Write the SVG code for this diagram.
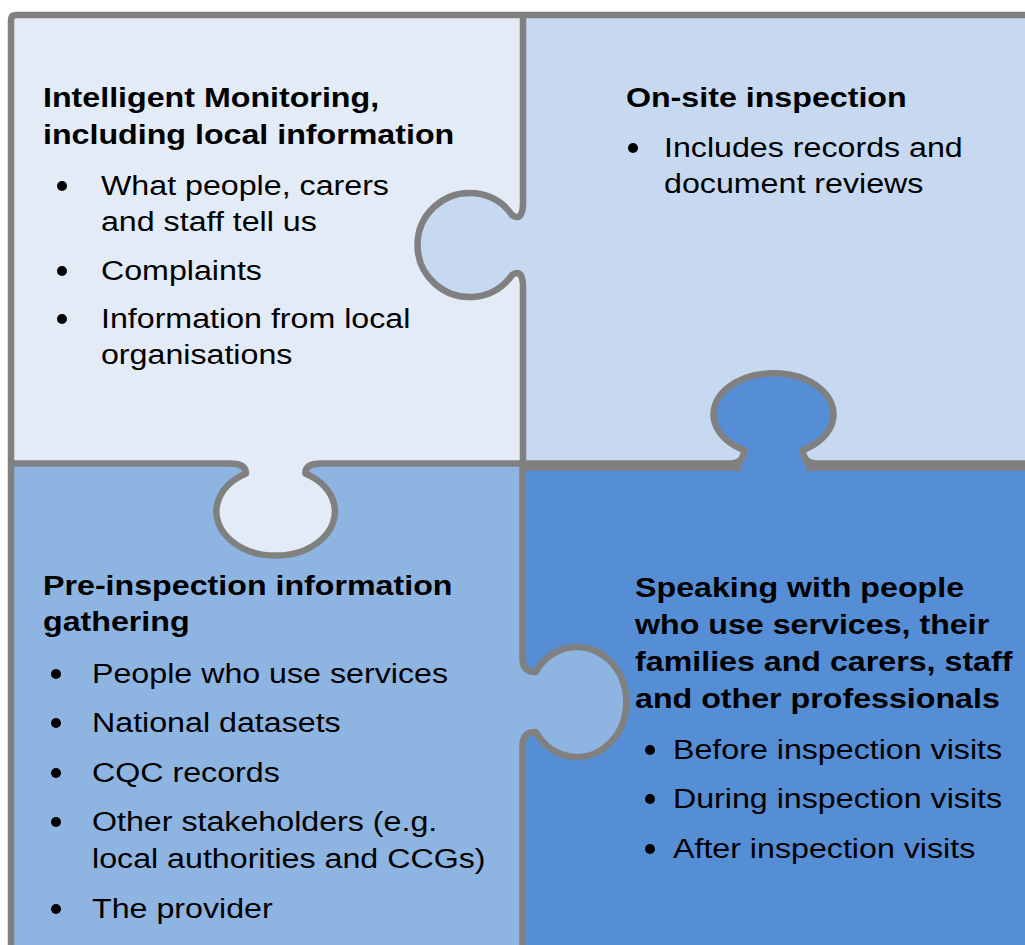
<svg xmlns="http://www.w3.org/2000/svg" width="1025" height="945" viewBox="0 0 1025 945">
  <style>
    .edge { fill: none; stroke: #808080; stroke-width: 6.5; stroke-linejoin: round; }
    .t { font-family: "Liberation Sans", Arial, sans-serif; font-size: 28px; fill: #000; }
    .b { font-weight: bold; }
    .dot { fill: #000; }
  </style>
  <rect x="0" y="0" width="1025" height="945" fill="#ffffff"/>

  <!-- Piece bodies -->
  <g id="piece-monitoring">
    <rect x="11" y="15" width="512" height="449" fill="#E3EBF6"/>
  </g>
  <g id="piece-onsite">
    <rect x="523" y="15" width="502" height="449" fill="#C6D9F0"/>
  </g>
  <g id="piece-preinspection">
    <rect x="11" y="464" width="512" height="481" fill="#8EB4E2"/>
  </g>
  <g id="piece-speaking">
    <rect x="523" y="464" width="502" height="481" fill="#558ED5"/>
  </g>

  <!-- Tabs, each filled with the colour of the piece it belongs to -->
  <g id="tabs">
    <path d="M230,464 Q246,464 246,473.5 A59.3,44 0 1 0 305.3,473.5 Q305.3,464 321,464 Z" fill="#E3EBF6"/>
    <path d="M523,205 Q522,222 512,215 A52,52 0 1 0 512,275 Q522,268 523,285 Z" fill="#C6D9F0"/>
    <path d="M523,658 Q523,672 535.7,672 A49.3,55 0 1 1 535.7,732 Q523,732 523,746 Z" fill="#8EB4E2"/>
    <path d="M730,464 Q744,464 744,450 A60,41 0 1 1 803,450 Q803,464 817,464 Z" fill="#558ED5"/>
  </g>

  <!-- Piece outlines -->
  <g id="connectors">
    <path class="edge" d="M11,945 L11,20 Q11,15 16,15 L1025,15"/>
    <path class="edge" d="M523,15 L523,205 Q522,222 512,215 A52,52 0 1 0 512,275 Q522,268 523,285 L523,464"/>
    <path class="edge" d="M522.5,464 L522.5,658 Q522.5,672 535.7,672 A49.3,55 0 1 1 535.7,732 Q522.5,732 522.5,746 L522.5,945"/>
    <path class="edge" d="M11,463.5 L230,463.5 Q246,463.5 246,473.5 A59.3,44 0 1 0 305.3,473.5 Q305.3,463.5 321,463.5 L523,463.5"/>
    <path class="edge" d="M523,467.5 L741,467.5 M806,467.5 L1025,467.5"/>
    <path class="edge" d="M523,463.5 L730,463.5 Q744,463.5 744,450 A60,41 0 1 1 803,450 Q803,463.5 817,463.5 L1025,463.5"/>
  </g>

  <!-- Bullet markers -->
  <g id="bullets">
    <circle class="dot" cx="62" cy="186" r="5"/>
    <circle class="dot" cx="62" cy="271" r="5"/>
    <circle class="dot" cx="62" cy="319" r="5"/>
    <circle class="dot" cx="633" cy="148" r="5"/>
    <circle class="dot" cx="56" cy="674" r="5"/>
    <circle class="dot" cx="56" cy="723" r="5"/>
    <circle class="dot" cx="56" cy="773" r="5"/>
    <circle class="dot" cx="56" cy="822" r="5"/>
    <circle class="dot" cx="56" cy="909" r="5"/>
    <circle class="dot" cx="650" cy="750" r="5"/>
    <circle class="dot" cx="650" cy="799" r="5"/>
    <circle class="dot" cx="650" cy="849" r="5"/>
  </g>

  <!-- Labels, set in a slightly widened face -->
  <g id="labels" transform="scale(1.15 1)">
    <g id="label-monitoring">
      <text class="t b" x="37.4" y="107">Intelligent Monitoring,</text>
      <text class="t b" x="37.4" y="144">including local information</text>
      <text class="t" x="87.8" y="195">What people, carers</text>
      <text class="t" x="87.8" y="231">and staff tell us</text>
      <text class="t" x="87.8" y="280">Complaints</text>
      <text class="t" x="87.8" y="328">Information from local</text>
      <text class="t" x="87.8" y="364">organisations</text>
    </g>
    <g id="label-onsite">
      <text class="t b" x="544.3" y="107">On-site inspection</text>
      <text class="t" x="577.4" y="157">Includes records and</text>
      <text class="t" x="577.4" y="193">document reviews</text>
    </g>
    <g id="label-preinspection">
      <text class="t b" x="37.4" y="595">Pre-inspection information</text>
      <text class="t b" x="37.4" y="631">gathering</text>
      <text class="t" x="80" y="683">People who use services</text>
      <text class="t" x="80" y="732">National datasets</text>
      <text class="t" x="80" y="782">CQC records</text>
      <text class="t" x="80" y="831">Other stakeholders (e.g.</text>
      <text class="t" x="80" y="868">local authorities and CCGs)</text>
      <text class="t" x="80" y="918">The provider</text>
    </g>
    <g id="label-speaking">
      <text class="t b" x="552.2" y="597">Speaking with people</text>
      <text class="t b" x="552.2" y="634">who use services, their</text>
      <text class="t b" x="552.2" y="671">families and carers, staff</text>
      <text class="t b" x="552.2" y="708">and other professionals</text>
      <text class="t" x="585.2" y="759">Before inspection visits</text>
      <text class="t" x="585.2" y="808">During inspection visits</text>
      <text class="t" x="585.2" y="858">After inspection visits</text>
    </g>
  </g>
</svg>
